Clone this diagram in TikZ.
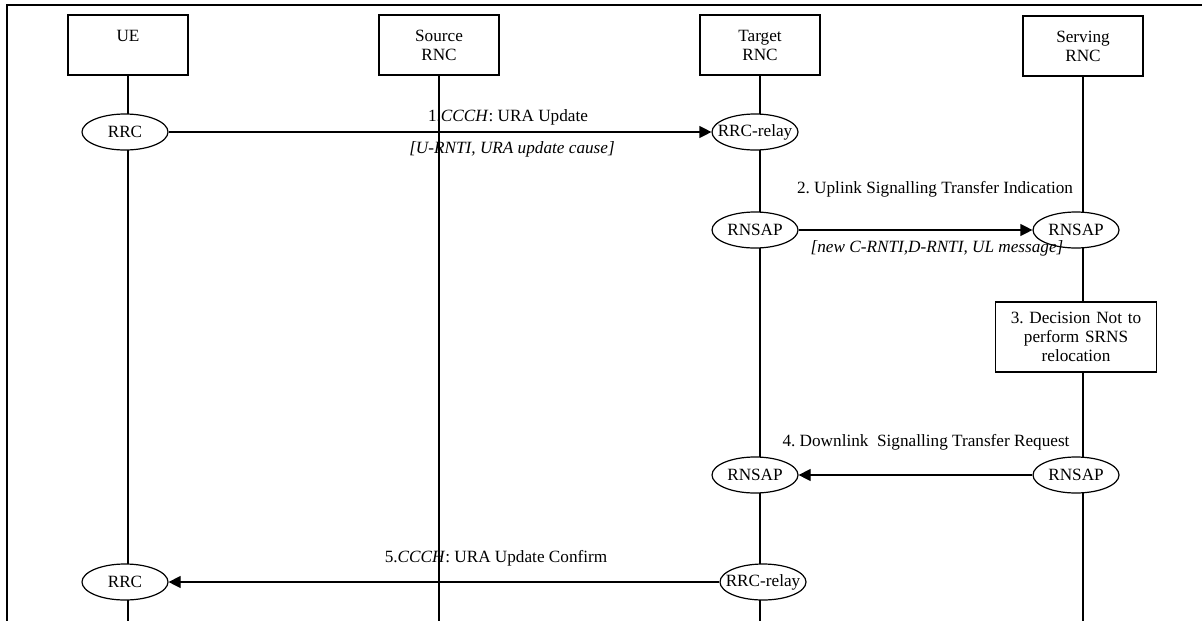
\documentclass[tikz,border=0pt]{standalone}
\usepackage{fontspec}
\setmainfont{Liberation Serif}
\usetikzlibrary{arrows.meta, positioning, shapes.geometric, backgrounds}
\frenchspacing

\begin{document}
\begin{tikzpicture}[
    x=0.5pt, y=-0.5pt,
    every node/.style={font=\fontsize{8.6}{9.5}\selectfont},
    entity/.style={
        rectangle,
        draw,
        line width=0.6pt,
        minimum width=60pt,
        minimum height=30pt,
        text width=56pt,
        align=center,
        inner sep=0pt
    },
    peer/.style={
        ellipse,
        draw,
        fill=white,
        line width=0.6pt,
        minimum width=43pt,
        minimum height=18pt,
        inner xsep=-4pt,
        inner ysep=0pt
    },
    action/.style={
        rectangle,
        draw,
        fill=white,
        line width=0.6pt,
        minimum width=80.5pt,
        minimum height=35pt,
        text width=76pt,
        align=center,
        inner sep=0pt
    },
    param/.style={font=\fontsize{8.6}{9.5}\selectfont\itshape},
    lifeline/.style={line width=0.6pt},
    msg/.style={
        line width=0.6pt,
        -{Triangle[length=6pt, width=6pt]}
    }
]
\useasboundingbox (0,0) rectangle (1202,621);

% frame
\draw[line width=0.6pt] (1202,5) -- (7,5) -- (7,621);

% ==================== ENTITIES ====================
\node (ue) [entity] at (128,45) {UE\\~};
\node (src) [entity] at (439,45) {Source\\RNC};
\node (tgt) [entity] at (760,45) {Target\\RNC};
\node (srv) [entity] at (1083,46) {Serving\\RNC};
\coordinate (bottom) at (0,621);

\begin{scope}[on background layer]
    \draw[lifeline] (ue) -- (ue |- bottom);
    \draw[lifeline] (src) -- (src |- bottom);
    \draw[lifeline] (tgt) -- (tgt |- bottom);
    \draw[lifeline] (srv) -- (srv |- bottom);
\end{scope}

% ==================== 1. URA UPDATE ====================
\node (ue_rrc1) [peer] at (125,132) {RRC};
\node (tgt_relay1) [peer] at (755,132) {RRC-relay};
\draw [msg] (ue_rrc1) -- (tgt_relay1);
\node (m1_lbl) at (508,117) {1.\textit{CCCH}: URA Update};
\node (m1_par) [param] at (512,149) {[U-RNTI, URA update cause]};

% ==================== 2. UPLINK SIGNALLING TRANSFER ====================
\node (tgt_rnsap2) [peer] at (755,230) {RNSAP};
\node (srv_rnsap2) [peer] at (1076,230) {RNSAP};
\draw [msg] (tgt_rnsap2) -- (srv_rnsap2);
\node (m2_lbl) at (935,189) {2. Uplink Signalling Transfer Indication};
\node (m2_par) [param] at (937,248) {[new C-RNTI,D-RNTI, UL message]};

% ==================== 3. DECISION ====================
\node (decide) [action] at (1076,337) {3. Decision Not to\\perform SRNS\\relocation};

% ==================== 4. DOWNLINK SIGNALLING TRANSFER ====================
\node (tgt_rnsap4) [peer] at (755,475) {RNSAP};
\node (srv_rnsap4) [peer] at (1076,475) {RNSAP};
\draw [msg] (srv_rnsap4) -- (tgt_rnsap4);
\node (m4_lbl) at (926,442) {4. Downlink~ Signalling Transfer Request};

% ==================== 5. URA UPDATE CONFIRM ====================
\node (ue_rrc5) [peer] at (125,582) {RRC};
\node (tgt_relay5) [peer] at (763,582) {RRC-relay};
\draw [msg] (tgt_relay5) -- (ue_rrc5);
\node (m5_lbl) at (496,558) {5.\textit{CCCH}: URA Update Confirm};

\end{tikzpicture}
\end{document}
